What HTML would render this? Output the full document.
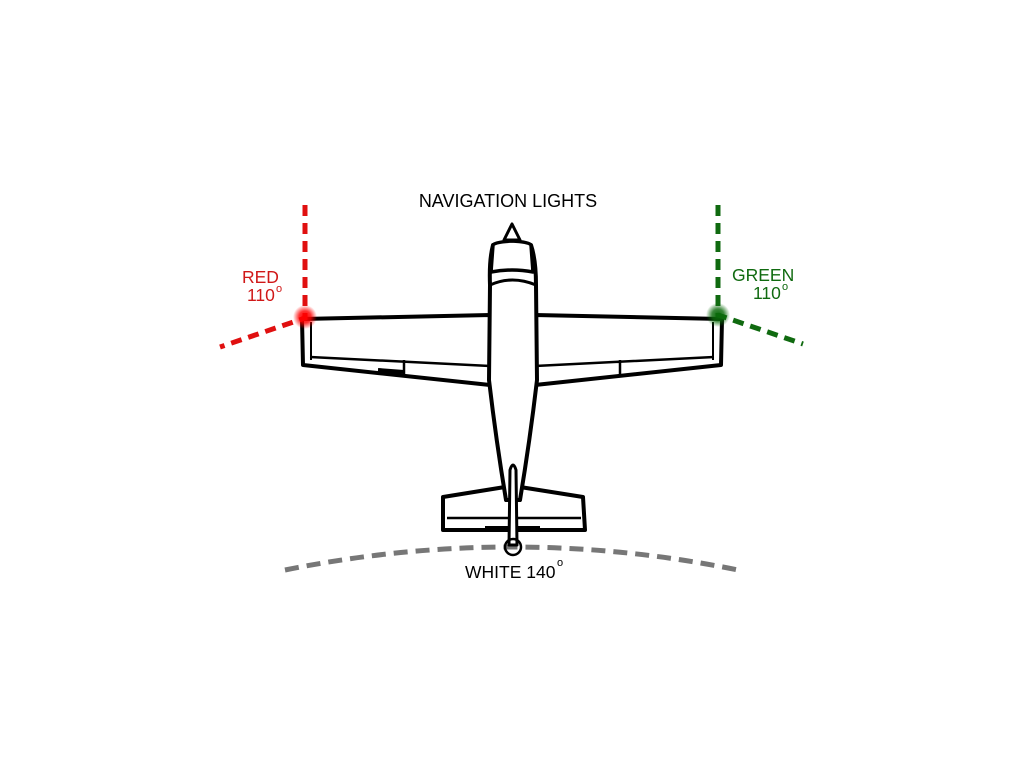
<!DOCTYPE html>
<html><head><style>
body{margin:0;background:#fff;}
svg{display:block}
text{font-family:"Liberation Sans",sans-serif;}
</style></head><body>
<svg width="1024" height="768" viewBox="0 0 1024 768">
<defs>
<radialGradient id="rg"><stop offset="0" stop-color="#ff0000"/><stop offset="0.5" stop-color="#ff0000" stop-opacity="0.8"/><stop offset="1" stop-color="#ff0000" stop-opacity="0"/></radialGradient>
<radialGradient id="gg"><stop offset="0" stop-color="#0a6a0a"/><stop offset="0.5" stop-color="#0a6a0a" stop-opacity="0.8"/><stop offset="1" stop-color="#0a6a0a" stop-opacity="0"/></radialGradient>
</defs>
<path d="M285 570 Q513 524 738 570" fill="none" stroke="#777" stroke-width="5" stroke-dasharray="14 8"/>
<g fill="#fff" stroke="#000" stroke-linejoin="round">
<path d="M302 319 L490 315 L490 385 L303 365 Z" stroke-width="4"/>
<path d="M722 319 L535 315 L535 385 L721 365 Z" stroke-width="4"/>
<path d="M310 357 L490 366 M404 360 L404 374 M714 357 L535 366 M620 360 L620 374" stroke-width="2.5" fill="none"/>
<path d="M311 322 L311 360 M713 322 L713 360" stroke-width="2" fill="none"/>
<path d="M378 370 L404 372" stroke-width="4"/>
<path d="M443 497 L505 487 L520 487 L583 497 L585 530 L443 530 Z" stroke-width="4"/>
<path d="M447 518 L581 518" stroke-width="2.5"/>
<path d="M485 528 L540 528" stroke-width="4"/>
<path d="M490 285 Q489 260 493 245 L531 245 Q536 260 536 285 L537 380 Q530 440 520 500 L506 500 Q496 440 489 380 Z" stroke-width="4"/>
<path d="M493 245 Q495 242 512 241 Q529 242 531 245 L533 272 Q512 268 491 272 Z" stroke-width="3.5"/>
<path d="M490 285 Q512 275 536 285" stroke-width="3" fill="none"/>
<path d="M504 240 L512 224 L520 240 Z" stroke-width="3"/>
<path d="M509 545 L510 470 Q513 460 516 470 L517 545 Z" stroke-width="3"/>
<circle cx="513" cy="547" r="8" stroke-width="2.5" fill="none"/>
</g>
<path d="M305 205 L305 318 L220 347" fill="none" stroke="#e01010" stroke-width="5" stroke-dasharray="11 7"/>
<circle cx="305" cy="317" r="12" fill="url(#rg)"/>
<path d="M718 205 L718 315 L803 344" fill="none" stroke="#106a10" stroke-width="5" stroke-dasharray="11 7"/>
<circle cx="718" cy="315" r="12" fill="url(#gg)"/>
<text x="508" y="207" font-size="18" text-anchor="middle" fill="#000">NAVIGATION LIGHTS</text>
<text x="242" y="283" font-size="17.5" fill="#d01818">RED</text>
<text x="247" y="301" font-size="17.5" fill="#d01818">110</text><text x="276" y="292" font-size="11" fill="#d01818">o</text>
<text x="732" y="281" font-size="17.5" fill="#106a10">GREEN</text>
<text x="753" y="299" font-size="17.5" fill="#106a10">110</text><text x="782" y="290" font-size="11" fill="#106a10">o</text>
<text x="465" y="578" font-size="17.5" fill="#000">WHITE 140</text><text x="557" y="566" font-size="11" fill="#000">o</text>
</svg>
</body></html>
